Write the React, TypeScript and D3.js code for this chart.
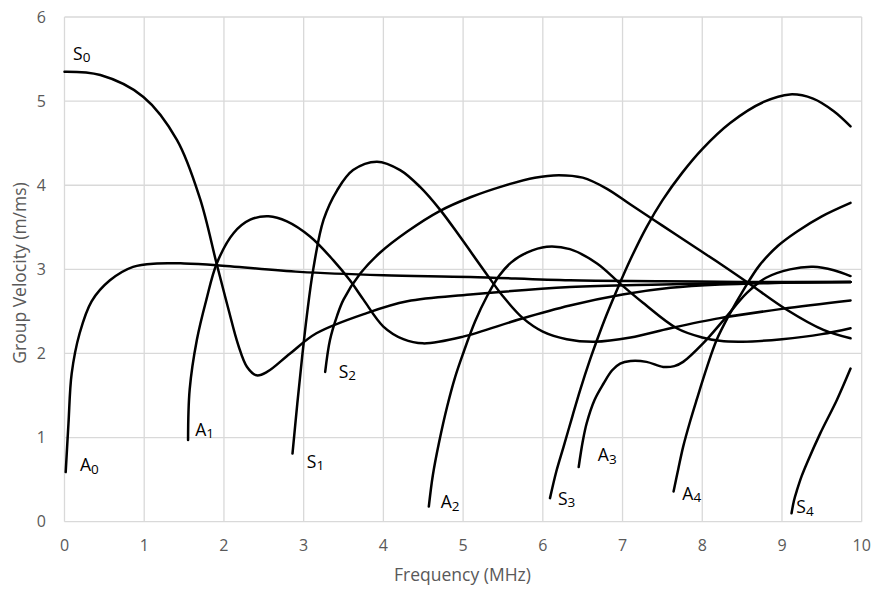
import React, { useEffect, useRef } from 'react'
import * as d3 from 'd3'

// group velocity dispersion curves as [MHz, m/ms]
const A0 = [[0.015, 0.59], [0.05, 1.17], [0.09, 1.76], [0.19, 2.24], [0.34, 2.62], [0.57, 2.87], [0.86, 3.03], [1.16, 3.07], [1.5, 3.07], [1.91, 3.05], [2.95, 2.97], [4.0, 2.93], [5.09, 2.91], [6.34, 2.87], [7.5, 2.86], [8.5, 2.85], [9.86, 2.85]]
const S0 = [[0, 5.35], [0.45, 5.31], [0.99, 5.05], [1.41, 4.54], [1.7, 3.84], [1.91, 3.06], [2.05, 2.55], [2.18, 2.1], [2.29, 1.84], [2.41, 1.74], [2.54, 1.78], [2.83, 2.0], [3.16, 2.24], [3.79, 2.48], [4.3, 2.62], [5.09, 2.7], [6.34, 2.79], [7.5, 2.82], [8.5, 2.84], [9.86, 2.85]]
const A1 = [[1.55, 0.97], [1.57, 1.57], [1.66, 2.16], [1.78, 2.64], [1.91, 3.07], [2.12, 3.43], [2.33, 3.59], [2.56, 3.63], [2.79, 3.57], [3.08, 3.39], [3.37, 3.11], [3.58, 2.87], [3.75, 2.64], [4.0, 2.32], [4.25, 2.17], [4.5, 2.12], [5.0, 2.2], [5.72, 2.41], [6.34, 2.57], [7.0, 2.7], [7.6, 2.78], [8.22, 2.82], [9.0, 2.84], [9.86, 2.85]]
const S1 = [[2.86, 0.81], [2.92, 1.4], [2.98, 1.95], [3.04, 2.45], [3.12, 3.0], [3.25, 3.59], [3.42, 3.94], [3.62, 4.18], [3.92, 4.28], [4.21, 4.18], [4.46, 3.98], [4.71, 3.71], [4.96, 3.39], [5.26, 2.99], [5.5, 2.68], [5.75, 2.42], [6.0, 2.26], [6.3, 2.17], [6.65, 2.14], [7.1, 2.19], [7.6, 2.3], [8.22, 2.42], [9.0, 2.53], [9.86, 2.63]]
const S2 = [[3.27, 1.78], [3.33, 2.16], [3.42, 2.45], [3.5, 2.64], [3.71, 2.95], [3.96, 3.2], [4.3, 3.45], [4.7, 3.69], [5.1, 3.86], [5.5, 3.99], [5.9, 4.09], [6.2, 4.12], [6.5, 4.09], [6.8, 3.96], [7.1, 3.77], [7.5, 3.52], [7.93, 3.25], [8.22, 3.07], [8.56, 2.85], [9.06, 2.52], [9.52, 2.28], [9.86, 2.18]]
const A2 = [[4.57, 0.18], [4.62, 0.55], [4.7, 0.95], [4.8, 1.37], [4.9, 1.72], [5.0, 2.0], [5.15, 2.38], [5.3, 2.68], [5.45, 2.92], [5.6, 3.08], [5.8, 3.2], [6.05, 3.27], [6.34, 3.24], [6.68, 3.07], [6.97, 2.83], [7.26, 2.6], [7.68, 2.3], [8.0, 2.19], [8.22, 2.15], [8.5, 2.14], [9.0, 2.17], [9.5, 2.23], [9.86, 2.3]]
const S3 = [[6.09, 0.28], [6.17, 0.6], [6.26, 0.89], [6.37, 1.25], [6.47, 1.57], [6.59, 1.92], [6.68, 2.16], [6.8, 2.46], [6.95, 2.8], [7.1, 3.12], [7.3, 3.5], [7.5, 3.82], [7.75, 4.15], [8.0, 4.43], [8.35, 4.74], [8.77, 4.99], [9.1, 5.08], [9.39, 5.03], [9.65, 4.88], [9.86, 4.7]]
const A3 = [[6.45, 0.65], [6.5, 0.95], [6.55, 1.17], [6.65, 1.45], [6.76, 1.64], [6.87, 1.8], [6.97, 1.88], [7.1, 1.91], [7.3, 1.9], [7.51, 1.84], [7.65, 1.85], [7.76, 1.9], [8.01, 2.12], [8.27, 2.4], [8.56, 2.72], [8.8, 2.9], [9.1, 3.0], [9.39, 3.03], [9.65, 2.99], [9.86, 2.92]]
const A4 = [[7.64, 0.36], [7.7, 0.63], [7.76, 0.89], [7.85, 1.2], [7.93, 1.45], [8.06, 1.84], [8.18, 2.16], [8.35, 2.48], [8.52, 2.76], [8.72, 3.05], [8.95, 3.28], [9.19, 3.45], [9.5, 3.63], [9.86, 3.79]]
const S4 = [[9.12, 0.1], [9.15, 0.25], [9.19, 0.38], [9.25, 0.55], [9.31, 0.69], [9.48, 1.05], [9.69, 1.45], [9.86, 1.82]]

const curves = [A0, S0, A1, S1, S2, A2, S3, A3, A4, S4]

// mode name, subscript, and where the label sits (data units, text baseline)
const modeLabels = [
  ['S', '0', 0.107, 5.49],
  ['A', '0', 0.195, 0.6],
  ['A', '1', 1.64, 1.02],
  ['S', '1', 3.04, 0.64],
  ['S', '2', 3.44, 1.71],
  ['A', '2', 4.72, 0.16],
  ['S', '3', 6.19, 0.2],
  ['A', '3', 6.69, 0.72],
  ['A', '4', 7.75, 0.26],
  ['S', '4', 9.18, 0.1],
]

const xTicks = [0, 1, 2, 3, 4, 5, 6, 7, 8, 9, 10]
const yTicks = [0, 1, 2, 3, 4, 5, 6]

const W = 872
const H = 590
const FONT = '"Open Sans", "Noto Sans", sans-serif'
const GREY = '#595959'

export default function App() {
  const ref = useRef(null)

  useEffect(() => {
    const svg = d3.select(ref.current)
    svg.selectAll('*').remove()

    const x = d3.scaleLinear().domain([0, 10]).range([64.5, 861.7])
    const y = d3.scaleLinear().domain([0, 6]).range([521.7, 17])

    // grid
    svg.append('g').selectAll('line').data(xTicks).join('line')
      .attr('x1', d => x(d)).attr('x2', d => x(d))
      .attr('y1', y(0)).attr('y2', y(6))
      .attr('stroke', '#d9d9d9').attr('stroke-width', 1.3)
    svg.append('g').selectAll('line').data(yTicks).join('line')
      .attr('x1', x(0)).attr('x2', x(10))
      .attr('y1', d => y(d)).attr('y2', d => y(d))
      .attr('stroke', '#d9d9d9').attr('stroke-width', 1.3)

    // tick labels
    svg.append('g').selectAll('text').data(xTicks).join('text')
      .attr('x', d => x(d)).attr('y', 551)
      .attr('text-anchor', 'middle')
      .style('font-family', FONT).style('font-size', '16px').style('fill', GREY)
      .text(d => d)
    svg.append('g').selectAll('text').data(yTicks).join('text')
      .attr('x', 46).attr('y', d => y(d)).attr('dy', '0.36em')
      .attr('text-anchor', 'end')
      .style('font-family', FONT).style('font-size', '16px').style('fill', GREY)
      .text(d => d)

    // axis titles
    svg.append('text')
      .attr('x', 462.5).attr('y', 581)
      .attr('text-anchor', 'middle')
      .style('font-family', FONT).style('font-size', '17.5px').style('fill', GREY)
      .text('Frequency (MHz)')
    svg.append('text')
      .attr('transform', 'translate(25.5,273) rotate(-90)')
      .attr('text-anchor', 'middle')
      .style('font-family', FONT).style('font-size', '17.5px').style('fill', GREY)
      .text('Group Velocity (m/ms)')

    const line = d3.line()
      .x(d => x(d[0]))
      .y(d => y(d[1]))
      .curve(d3.curveCatmullRom.alpha(0.5))

    svg.append('g').selectAll('path').data(curves).join('path')
      .attr('d', line)
      .attr('fill', 'none')
      .attr('stroke', '#000')
      .attr('stroke-width', 2.5)
      .attr('stroke-linecap', 'round')

    const lbl = svg.append('g').selectAll('text').data(modeLabels).join('text')
      .attr('x', d => x(d[2])).attr('y', d => y(d[3]))
      .style('font-family', FONT).style('font-size', '17.5px').style('fill', '#000')
    lbl.append('tspan').text(d => d[0])
    lbl.append('tspan').attr('dy', 2.5).style('font-size', '13.5px').text(d => d[1])
  }, [])

  return (
    <div style={{ position: 'absolute', left: 0, top: 0 }}>
      <svg ref={ref} width={W} height={H} style={{ display: 'block', background: '#fff' }} />
    </div>
  )
}
